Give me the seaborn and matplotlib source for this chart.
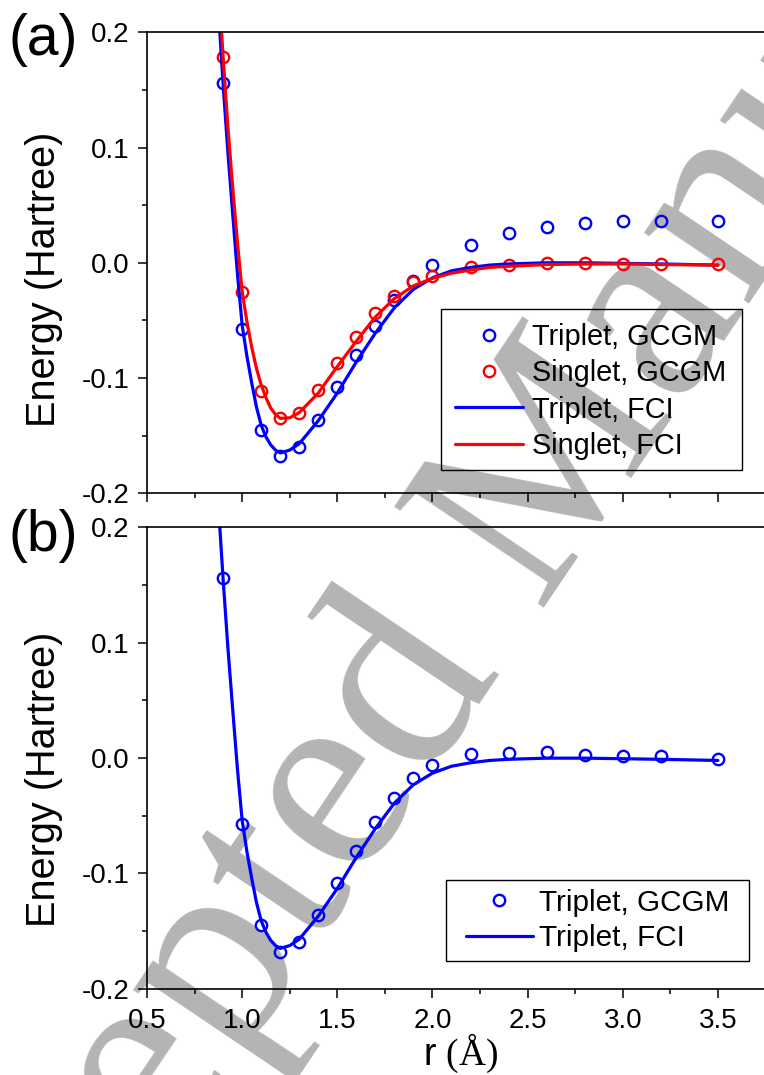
import matplotlib
matplotlib.use("Agg")
import matplotlib.pyplot as plt
import seaborn as sns
from matplotlib.patches import Rectangle
from matplotlib.ticker import MultipleLocator, FormatStrFormatter

# ---------------- data ----------------
r_gcgm = [0.9, 1.0, 1.1, 1.2, 1.3, 1.4, 1.5, 1.6, 1.7, 1.8, 1.9, 2.0,
          2.2, 2.4, 2.6, 2.8, 3.0, 3.2, 3.5]
trip_gcgm_a = [0.156, -0.0575, -0.145, -0.168, -0.160, -0.1365, -0.108, -0.080,
               -0.055, -0.032, -0.016, -0.002, 0.0155, 0.0255, 0.031, 0.0345,
               0.036, 0.0365, 0.0365]
sing_gcgm_a = [0.179, -0.0255, -0.111, -0.135, -0.130, -0.110, -0.087, -0.0645,
               -0.0437, -0.029, -0.017, -0.0115, -0.0037, -0.002, -0.0005,
               -0.0005, -0.001, -0.001, -0.001]
trip_gcgm_b = [0.156, -0.057, -0.1445, -0.1683, -0.159, -0.136, -0.108, -0.0808,
               -0.0557, -0.0347, -0.0172, -0.0056, 0.0036, 0.0045, 0.0054,
               0.003, 0.0022, 0.0016, -0.0004]

r_fci = [0.86, 0.88, 0.90, 0.925, 0.95, 0.975, 1.00, 1.025, 1.05, 1.075, 1.10,
         1.125, 1.15, 1.175, 1.20, 1.25, 1.30, 1.40, 1.50, 1.60, 1.70, 1.80,
         1.90, 2.00, 2.10, 2.20, 2.30, 2.40, 2.60, 2.80, 3.00, 3.20, 3.50]
trip_fci = [0.262, 0.207, 0.155, 0.096, 0.043, -0.009, -0.054, -0.081, -0.104,
            -0.125, -0.141, -0.151, -0.158, -0.1625, -0.165, -0.1625, -0.157,
            -0.137, -0.113, -0.086, -0.061, -0.039, -0.023, -0.013, -0.007,
            -0.004, -0.002, -0.001, 0.0, 0.0, -0.0005, -0.001, -0.002]
sing_fci = [0.29, 0.232, 0.178, 0.118, 0.066, 0.018, -0.025, -0.051, -0.073,
            -0.0915, -0.106, -0.117, -0.126, -0.1315, -0.135, -0.1345, -0.130,
            -0.113, -0.090, -0.068, -0.047, -0.031, -0.020, -0.0135, -0.009,
            -0.0063, -0.004, -0.003, -0.0015, -0.001, -0.001, -0.0015, -0.002]

labels_a = ["Triplet, GCGM", "Singlet, GCGM", "Triplet, FCI", "Singlet, FCI"]
labels_b = ["Triplet, GCGM", "Triplet, FCI"]
panel_tags = ["(a)", "(b)"]
watermark = "Accepted Manuscript"

# ---------------- style ----------------
sns.set_theme(style="ticks")
plt.rcParams["font.family"] = ["Liberation Sans", "DejaVu Sans"]
plt.rcParams["mathtext.fontset"] = "custom"
plt.rcParams["mathtext.rm"] = "Liberation Serif"
plt.rcParams["axes.unicode_minus"] = False

W, H = 764, 1075
fig = plt.figure(figsize=(W / 100, H / 100), dpi=100, facecolor="white")

# watermark behind everything
fig.text(526 / W, 1 - 516 / H, watermark, rotation=56, rotation_mode="anchor",
         ha="center", va="center", fontsize=199, family="Liberation Serif",
         color="#b4b4b4", zorder=-5)

axA = fig.add_axes([147 / W, 1 - 493.3 / H, 628 / W, 461 / H])
axB = fig.add_axes([147 / W, 1 - 988.8 / H, 628 / W, 461.3 / H])

BLUE, RED = "#0000ff", "#ff0000"
mk = dict(linestyle="", marker="o", markersize=8.2, markerfacecolor="none",
          markeredgewidth=1.7, estimator=None)
ln = dict(linewidth=2.3, estimator=None, sort=False)

# panel (a)
sns.lineplot(x=r_gcgm, y=trip_gcgm_a, ax=axA, markeredgecolor=BLUE, color=BLUE,
             label=labels_a[0], **mk)
sns.lineplot(x=r_gcgm, y=sing_gcgm_a, ax=axA, markeredgecolor=RED, color=RED,
             label=labels_a[1], **mk)
sns.lineplot(x=r_fci, y=trip_fci, ax=axA, color=BLUE, label=labels_a[2], **ln)
sns.lineplot(x=r_fci, y=sing_fci, ax=axA, color=RED, label=labels_a[3], **ln)

# panel (b)
sns.lineplot(x=r_gcgm, y=trip_gcgm_b, ax=axB, markeredgecolor=BLUE, color=BLUE,
             label=labels_b[0], **mk)
sns.lineplot(x=r_fci, y=trip_fci, ax=axB, color=BLUE, label=labels_b[1], **ln)

for ax in (axA, axB):
    ax.set_facecolor("none")
    ax.set_xlim(0.5, 3.8)
    ax.set_ylim(-0.2, 0.2)
    ax.xaxis.set_major_locator(MultipleLocator(0.5))
    ax.xaxis.set_minor_locator(MultipleLocator(0.25))
    ax.yaxis.set_major_locator(MultipleLocator(0.1))
    ax.yaxis.set_minor_locator(MultipleLocator(0.05))
    ax.xaxis.set_major_formatter(FormatStrFormatter("%.1f"))
    ax.yaxis.set_major_formatter(FormatStrFormatter("%.1f"))
    ax.tick_params(which="both", direction="out", colors="black", width=1.1,
                   top=False, right=False, labelsize=20, labelcolor="black")
    ax.tick_params(which="major", length=6.5)
    ax.tick_params(which="minor", length=3.8)
    ax.tick_params(axis="y", pad=6)
    ax.tick_params(axis="x", pad=7)
    for s in ("left", "bottom", "top"):
        ax.spines[s].set_visible(True)
        ax.spines[s].set_color("black")
        ax.spines[s].set_linewidth(1.2)
    ax.spines["right"].set_visible(False)
    ax.set_ylabel("Energy (Hartree)", fontsize=28.5, color="black")
    ax.grid(False)

axA.tick_params(axis="x", labelbottom=False)
axA.set_xlabel("")
axA.yaxis.set_label_coords(-0.133, 0.4638)
axB.yaxis.set_label_coords(-0.133, 0.4535)
axB.set_xlabel("r $\\mathrm{(Å)}$", fontsize=27, color="black")
axB.xaxis.set_label_coords(0.5, -0.094)


def place_legend(ax, anchor, fs, hlen, tpad, lspace, rect):
    h, l = ax.get_legend_handles_labels()
    leg = ax.legend(h, l, loc="upper left", bbox_to_anchor=anchor,
                    fontsize=fs, frameon=False, borderaxespad=0, borderpad=0,
                    handlelength=hlen, handletextpad=tpad, labelspacing=lspace)
    for t in leg.get_texts():
        t.set_color("black")
    ax.add_patch(Rectangle(rect[:2], rect[2], rect[3], transform=ax.transAxes,
                           fill=False, edgecolor="black", linewidth=1.0,
                           clip_on=False, zorder=6))


place_legend(axA, (0.4904, 0.3698), 20.8, 2.35, 0.30, 0.29,
             (0.4682, 0.0505, 0.4793, 0.3492))
place_legend(axB, (0.5080, 0.2170), 21.4, 2.25, 0.22, 0.25,
             (0.4755, 0.0603, 0.4831, 0.1756))

fig.text(8 / W, 1 - 55 / H, panel_tags[0], fontsize=41, ha="left",
         va="baseline", color="black")
fig.text(8 / W, 1 - 551 / H, panel_tags[1], fontsize=41, ha="left",
         va="baseline", color="black")

fig.savefig("out.png", dpi=100, facecolor="white")
